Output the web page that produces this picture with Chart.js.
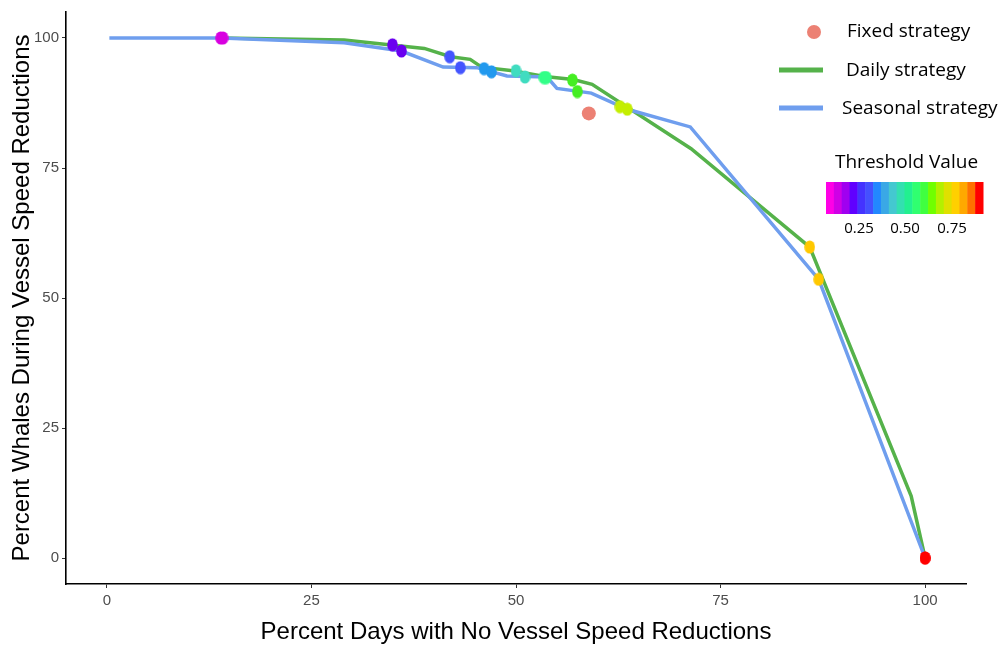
<!DOCTYPE html>
<html>
<head>
<meta charset="utf-8">
<script src="https://cdn.jsdelivr.net/npm/chart.js@4"></script>
<style>
  html, body { margin: 0; padding: 0; background: #fff; }
  #wrap { width: 1002px; height: 647px; }
</style>
</head>
<body>
<div id="wrap"><canvas id="chart" width="1002" height="647"></canvas></div>
<script>
// seasonal strategy line
var seasonalX = [0.3, 14, 29, 36.0, 41.1, 45.2, 48.9, 53.8, 55.0, 59.2, 63.6, 71.3, 87.0, 100];
var seasonalY = [100, 100, 99.1, 97.5, 94.4, 94.3, 92.7, 92.5, 90.3, 89.4, 86.3, 82.9, 53.6, 0];

// daily strategy line
var dailyX = [14, 29, 38.8, 42.0, 44.4, 45.8, 49.6, 53.5, 57.0, 59.3, 71.4, 85.9, 98.3, 100];
var dailyY = [100, 99.6, 98.0, 96.4, 95.9, 94.4, 93.7, 92.6, 92.0, 91.1, 78.7, 59.8, 11.9, 0];

// threshold points (daily / seasonal pairs), lowest threshold first
var thrX = [13.9, 14.2, 34.9, 36.0, 41.9, 43.2, 46.1, 47.0, 50.0, 51.1, 53.4, 53.7, 56.9, 57.5, 62.7, 63.6, 85.9, 87.0, 100, 100];
var thrY = [100, 100, 98.7, 97.5, 96.4, 94.3, 94.1, 93.5, 93.7, 92.5, 92.4, 92.4, 91.9, 89.7, 86.8, 86.3, 59.8, 53.6, 0, 0];
var thrLevel = [0, 0, 1, 1, 2, 2, 3, 3, 4, 4, 5, 5, 6, 6, 7, 7, 8, 8, 9, 9];

// fixed strategy
var fixedX = [58.9];
var fixedY = [85.5];

var yTicks = [0, 25, 50, 75, 100];
var xTicks = [0, 25, 50, 75, 100];
var barTicks = ['0.25', '0.50', '0.75'];

var levelColors = ['#d800e0', '#6a00f0', '#4455ff', '#2299ee', '#40dcc0', '#33ff88', '#44ee22', '#c4ee00', '#ffc800', '#ff0000'];
var barColors = ['#ff00e6', '#d000e6', '#a000f0', '#6000ff', '#4433ff', '#4450ff', '#2288ff', '#3aa8e6', '#44c8d0', '#33e0b0',
                 '#22f090', '#30ff70', '#40ff40', '#70ff00', '#b4f000', '#e0e000', '#ffd000', '#ffa800', '#ff7000', '#ff0000'];

function pts(xs, ys) {
    return xs.map(function (x, i) { return { x: x, y: ys[i] }; });
}

var dotCache = {};
function dot(color) {
    if (dotCache[color]) return dotCache[color];
    var c = document.createElement('canvas');
    c.width = 11; c.height = 14;
    var g = c.getContext('2d');
    g.fillStyle = color;
    g.beginPath();
    g.ellipse(5.5, 7, 5.3, 6.6, 0, 0, Math.PI * 2);
    g.fill();
    dotCache[color] = c;
    return c;
}

var legendPlugin = {
    id: 'customLegend',
    afterDraw: function (chart) {
        var ctx = chart.ctx;
        ctx.save();
        ctx.fillStyle = '#ec8174';
        ctx.beginPath();
        ctx.arc(814, 32, 7, 0, Math.PI * 2);
        ctx.fill();
        ctx.lineWidth = 5;
        ctx.strokeStyle = '#55b24a';
        ctx.beginPath(); ctx.moveTo(779, 70); ctx.lineTo(823, 70); ctx.stroke();
        ctx.strokeStyle = '#6f9eee';
        ctx.beginPath(); ctx.moveTo(779, 108); ctx.lineTo(823, 108); ctx.stroke();

        ctx.fillStyle = '#000';
        ctx.font = '19px "Open Sans"';
        ctx.textBaseline = 'middle';
        ctx.textAlign = 'left';
        ctx.fillText('Fixed strategy', 847, 32);
        ctx.fillText('Daily strategy', 846, 71);
        ctx.fillText('Seasonal strategy', 842, 109);
        ctx.fillText('Threshold Value', 835, 163);

        var bx = 826, bw = 157, by = 182, bh = 32;
        var sw = bw / barColors.length;
        barColors.forEach(function (col, i) {
            ctx.fillStyle = col;
            ctx.fillRect(bx + i * sw, by, sw + 0.5, bh);
        });
        ctx.fillStyle = '#000';
        ctx.font = '15px "Open Sans"';
        ctx.textAlign = 'center';
        [859, 905, 952].forEach(function (x, i) {
            ctx.fillText(barTicks[i], x, 229);
        });
        ctx.restore();
    }
};

var ctx = document.getElementById('chart').getContext('2d');
var chart = new Chart(ctx, {
    type: 'scatter',
    data: {
        datasets: [
            {
                label: 'Threshold',
                data: pts(thrX, thrY),
                pointStyle: thrLevel.map(function (l) { return dot(levelColors[l]); }),
                pointRadius: 6,
                order: 0
            },
            {
                label: 'Fixed strategy',
                data: pts(fixedX, fixedY),
                backgroundColor: '#ec8174',
                borderWidth: 0,
                pointRadius: 7,
                order: 1
            },
            {
                label: 'Seasonal strategy',
                data: pts(seasonalX, seasonalY),
                showLine: true,
                borderColor: '#6f9eee',
                borderWidth: 3.5,
                pointRadius: 0,
                order: 2
            },
            {
                label: 'Daily strategy',
                data: pts(dailyX, dailyY),
                showLine: true,
                borderColor: '#55b24a',
                borderWidth: 3.5,
                pointRadius: 0,
                order: 3
            }
        ]
    },
    options: {
        responsive: false,
        animation: false,
        layout: { padding: { top: 10, right: 36, left: 0, bottom: 0 } },
        plugins: { legend: { display: false }, tooltip: { enabled: false } },
        scales: {
            x: {
                type: 'linear',
                min: -5, max: 105,
                afterBuildTicks: function (s) { s.ticks = xTicks.map(function (v) { return { value: v }; }); },
                afterFit: function (s) { s.height = 63; },
                grid: { drawOnChartArea: false, tickLength: 4, color: '#333', tickWidth: 1 },
                border: { display: true, color: '#000', width: 1.6 },
                ticks: { color: '#4d4d4d', font: { family: '"Liberation Sans"', size: 15 }, padding: 4, maxRotation: 0 },
                title: { display: true, text: 'Percent Days with No Vessel Speed Reductions', color: '#000',
                         font: { family: '"Liberation Sans"', size: 24 }, padding: { top: 0, bottom: 0 } }
            },
            y: {
                type: 'linear',
                min: -5, max: 105,
                afterBuildTicks: function (s) { s.ticks = yTicks.map(function (v) { return { value: v }; }); },
                afterFit: function (s) { s.width = 66; },
                grid: { drawOnChartArea: false, tickLength: 4, color: '#333', tickWidth: 1 },
                border: { display: true, color: '#000', width: 1.6 },
                ticks: { color: '#4d4d4d', font: { family: '"Liberation Sans"', size: 15 }, padding: 3 },
                title: { display: true, text: 'Percent Whales During Vessel Speed Reductions', color: '#000',
                         font: { family: '"Liberation Sans"', size: 24 }, padding: { top: 8, bottom: 0 } }
            }
        }
    },
    plugins: [legendPlugin]
});
</script>
</body>
</html>
